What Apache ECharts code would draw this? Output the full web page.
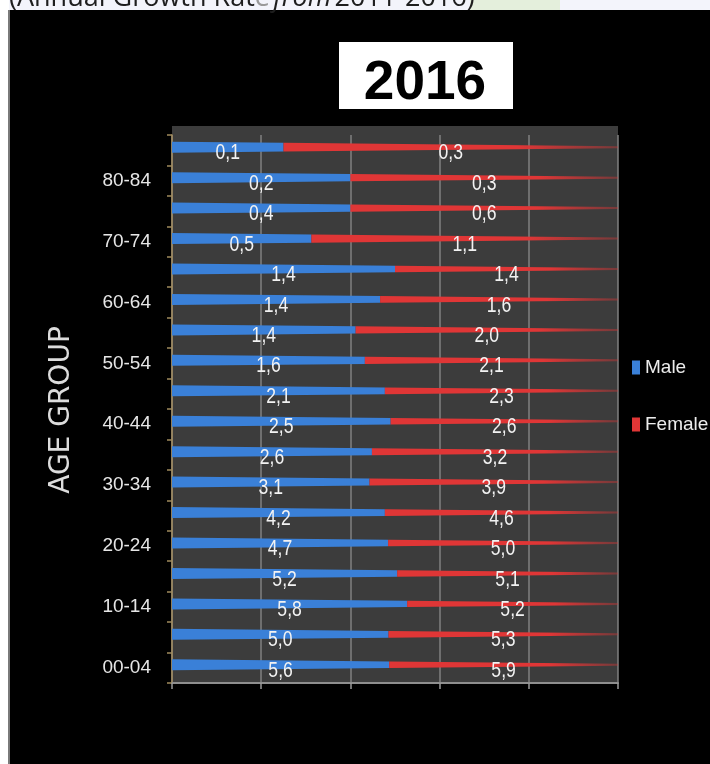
<!DOCTYPE html>
<html>
<head>
<meta charset="utf-8">
<title>Age group growth rate 2016</title>
<script src="https://cdn.jsdelivr.net/npm/echarts@6/dist/echarts.min.js"></script>
<style>
  html, body { margin: 0; padding: 0; background: #000; }
  #chart { width: 710px; height: 764px; }
</style>
</head>
<body>
<div id="chart"></div>
<script>
// Age groups, bottom to top
const categories = ['00-04', '05-09', '10-14', '15-19', '20-24', '25-29', '30-34', '35-39', '40-44',
  '45-49', '50-54', '55-59', '60-64', '65-69', '70-74', '75-79', '80-84', '85+'];

// Annual growth rate (%) per age group
const maleRate = [5.6, 5.0, 5.8, 5.2, 4.7, 4.2, 3.1, 2.6, 2.5, 2.1, 1.6, 1.4, 1.4, 1.4, 0.5, 0.4, 0.2, 0.1];
const femaleRate = [5.9, 5.3, 5.2, 5.1, 5.0, 4.6, 3.9, 3.2, 2.6, 2.3, 2.1, 2.0, 1.6, 1.4, 1.1, 0.6, 0.3, 0.3];

const seriesNames = ['Male', 'Female'];
const titleText = '2016';
const axisName = 'AGE GROUP';

const MALE_COLOR = '#3a80d8';
const FEMALE_COLOR = '#e03636';
const SANS = "'Liberation Sans', Arial, sans-serif";
const LABEL_FONT = "22px 'Liberation Sans', Arial, sans-serif";

// 100% stacked shares: [start, end, categoryIndex, rate]
const maleData = categories.map((c, i) => {
  const share = maleRate[i] / (maleRate[i] + femaleRate[i]) * 100;
  return [0, share, i, maleRate[i]];
});
const femaleData = categories.map((c, i) => {
  const share = maleRate[i] / (maleRate[i] + femaleRate[i]) * 100;
  return [share, 100, i, femaleRate[i]];
});

const fmt = v => v.toFixed(1).replace('.', ',');

// Tapered bar: thick at the axis, thin toward 100%
const THICK_START = 11;
const THICK_END = 2;
const BAR_SHIFT = 3;
const thickness = v => THICK_START - (THICK_START - THICK_END) * v / 100;

function makeRenderer(fillFor) {
  return function (params, api) {
    const v0 = api.value(0), v1 = api.value(1), ci = api.value(2), rate = api.value(3);
    const a = api.coord([v0, ci]);
    const b = api.coord([v1, ci]);
    const yc = a[1];
    const yb = yc - BAR_SHIFT;
    const h0 = thickness(v0) / 2, h1 = thickness(v1) / 2;
    return {
      type: 'group',
      children: [
        {
          type: 'polygon',
          shape: { points: [[a[0], yb - h0], [b[0], yb - h1], [b[0], yb + h1], [a[0], yb + h0]] },
          style: { fill: fillFor() }
        },
        {
          // narrow value label: regular face squeezed horizontally
          type: 'text',
          z2: 20,
          x: (a[0] + b[0]) / 2,
          y: yc + 3,
          scaleX: 0.8,
          style: {
            text: fmt(rate),
            x: 0,
            y: 0,
            align: 'center',
            verticalAlign: 'middle',
            font: LABEL_FONT,
            fill: '#f2f2f2'
          }
        }
      ]
    };
  };
}

const chart = echarts.init(document.getElementById('chart'), null, { renderer: 'canvas' });

chart.setOption({
  backgroundColor: '#000',
  animation: false,
  grid: { left: 172, right: 92, top: 135, bottom: 81, containLabel: false },
  xAxis: {
    type: 'value',
    min: 0,
    max: 100,
    interval: 20,
    axisLabel: { show: false },
    axisLine: { show: true, lineStyle: { color: '#8e8e8e', width: 2 } },
    axisTick: { show: true, length: 6, lineStyle: { color: '#9a9a9a', width: 1.5 } },
    splitLine: { show: true, lineStyle: { color: '#808080', width: 1.5 } }
  },
  yAxis: {
    type: 'category',
    data: categories,
    offset: 5,
    axisLine: { show: true, lineStyle: { color: '#a08a5c', width: 1.5 } },
    axisTick: { show: true, interval: 0, length: 5, lineStyle: { color: '#a08a5c', width: 1.5 } },
    axisLabel: {
      interval: 1,
      margin: 16,
      color: '#e6e6e6',
      fontSize: 19,
      fontFamily: SANS
    },
    splitLine: { show: false }
  },
  legend: {
    data: seriesNames,
    orient: 'vertical',
    left: 627,
    top: 353,
    itemWidth: 8,
    itemHeight: 14,
    itemGap: 38,
    icon: 'rect',
    textStyle: {
      color: '#ececec',
      fontSize: 19,
      fontFamily: SANS
    }
  },
  graphic: [
    // white page margins around the dark chart panel
    { type: 'rect', z: -20, shape: { x: 0, y: 0, width: 710, height: 10 }, style: { fill: '#f3f4fb' } },
    { type: 'rect', z: -20, shape: { x: 470, y: 0, width: 90, height: 10 }, style: { fill: '#e4efdc' } },
    { type: 'rect', z: -20, shape: { x: 0, y: 0, width: 9, height: 764 }, style: { fill: '#ffffff' } },
    { type: 'rect', z: -20, shape: { x: 8, y: 10, width: 2, height: 754 }, style: { fill: '#7a7a7a' } },
    {
      type: 'text', z: 5,
      style: {
        x: 9, y: -2,
        verticalAlign: 'middle',
        text: '{a|(Annual Growth Rat}{g|e} {i|from} {a|2011-2016)}',
        rich: {
          a: { fontSize: 27, fontFamily: "'Open Sans', sans-serif", fill: '#1e1e1e' },
          g: { fontSize: 27, fontFamily: "'Open Sans', sans-serif", fill: '#9a9a9a' },
          i: { fontSize: 27, fontFamily: "'Open Sans', sans-serif", fontStyle: 'italic', fill: '#1e1e1e' }
        }
      }
    },
    // back wall of the plot area
    { type: 'rect', z: -10, shape: { x: 172, y: 126, width: 446, height: 557 }, style: { fill: '#3c3c3c' } },
    // year box
    { type: 'rect', z: 5, shape: { x: 339, y: 42, width: 174, height: 67 }, style: { fill: '#ffffff' } },
    {
      type: 'text', z: 6,
      style: {
        x: 425, y: 84, align: 'center', verticalAlign: 'middle',
        text: titleText,
        font: "bold 55px 'Liberation Sans', Arial, sans-serif",
        fill: '#000000'
      }
    },
    { type: 'rect', z: 7, shape: { x: 339, y: 100, width: 174, height: 9 }, style: { fill: '#ffffff' } },
    // axis title
    {
      type: 'text', z: 5,
      x: 62, y: 410, rotation: Math.PI / 2,
      style: {
        x: 0, y: 0, align: 'center', verticalAlign: 'middle',
        text: axisName,
        font: "28px 'DejaVu Sans', sans-serif",
        fill: '#dcdcdc'
      }
    }
  ],
  series: [
    {
      name: seriesNames[0],
      type: 'custom',
      coordinateSystem: 'cartesian2d',
      itemStyle: { color: MALE_COLOR },
      encode: { x: [0, 1], y: 2 },
      renderItem: makeRenderer(() => MALE_COLOR),
      data: maleData
    },
    {
      name: seriesNames[1],
      type: 'custom',
      coordinateSystem: 'cartesian2d',
      itemStyle: { color: FEMALE_COLOR },
      encode: { x: [0, 1], y: 2 },
      renderItem: makeRenderer(() => new echarts.graphic.LinearGradient(0, 0, 1, 0, [
        { offset: 0, color: FEMALE_COLOR },
        { offset: 0.7, color: FEMALE_COLOR },
        { offset: 1, color: 'rgba(224,54,54,0.35)' }
      ])),
      data: femaleData
    }
  ]
});
</script>
</body>
</html>
